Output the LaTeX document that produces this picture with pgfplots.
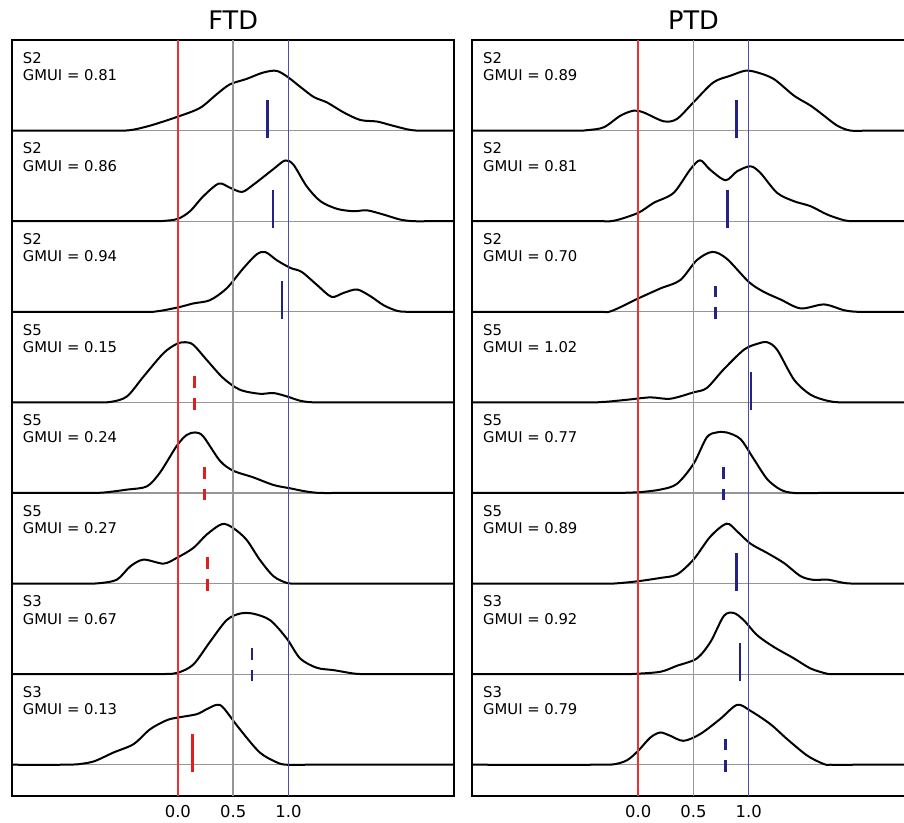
\documentclass[border=0pt]{standalone}
\usepackage{fontspec}
\setmainfont{DejaVu Sans}
\usepackage{pgfplots}
\pgfplotsset{compat=1.18}

\definecolor{zeroline}{RGB}{235,50,50}
\definecolor{oneline}{RGB}{75,75,170}
\definecolor{gridgray}{RGB}{150,150,150}
\definecolor{mkred}{RGB}{225,30,30}
\definecolor{mknavy}{RGB}{35,35,130}

\tikzset{lab/.style={anchor=base west, inner sep=0pt, font=\fontsize{7.4}{9}\selectfont}}
\pgfplotsset{
  ridge/.style={
    scale only axis, width=221.15pt, height=378pt, anchor=south west,
    xmin=-1.5, xmax=2.5, ymin=-0.345, ymax=8,
    xtick={0,0.5,1}, ytick={0,...,7}, yticklabels={},
    major tick length=0pt,
    ymajorgrids, grid style={color=gridgray, line width=0.6pt},
    axis line style={line width=1pt},
    /pgf/number format/assume math mode=true,
    xticklabel style={font=\fontsize{8.2}{10}\selectfont, anchor=north, inner sep=0pt, yshift=-4.6pt,
      /pgf/number format/.cd, fixed, fixed zerofill, precision=1},
    title style={at={(0.5,1)}, anchor=base, yshift=-1pt, font=\fontsize{12.8}{15}\selectfont},
  },
  curve/.style={black, line width=1pt, smooth},
  mk/.style={line width=1.3pt},
  mkd/.style={line width=1.3pt, dash pattern=on 5.85pt off 5pt},
  vline/.style={line width=0.7pt},
}

\begin{document}
\begin{tikzpicture}
\path[use as bounding box] (0,0) rectangle (452pt,411.5pt);
\clip (0,0) rectangle (452pt,411.5pt);

% ---------------- FTD ----------------
\begin{axis}[ridge, at={(6pt,13.5pt)}, title={FTD}]
\addplot[curve] table[y expr=\thisrow{y}+7] {
x y
-1.5 0
-0.6 0
-0.43 0.005
-0.25 0.055
0 0.154
0.20 0.25
0.35 0.40
0.47 0.51
0.62 0.57
0.77 0.64
0.89 0.66
0.99 0.595
1.11 0.48
1.23 0.37
1.35 0.31
1.50 0.20
1.65 0.117
1.80 0.10
1.92 0.062
2.07 0.015
2.16 0
2.3 0
2.5 0
};
\addplot[curve] table[y expr=\thisrow{y}+6] {
x y
-1.5 0
-0.3 0
-0.13 0.003
0 0.026
0.11 0.11
0.23 0.275
0.37 0.415
0.47 0.37
0.58 0.323
0.68 0.40
0.865 0.576
0.97 0.67
1.045 0.624
1.165 0.385
1.29 0.22
1.44 0.136
1.59 0.11
1.71 0.12
1.86 0.073
2.01 0.018
2.13 0
2.3 0
2.5 0
};
\addplot[curve] table[y expr=\thisrow{y}+5] {
x y
-1.5 0
-0.35 0
-0.19 0.005
0 0.048
0.14 0.092
0.29 0.128
0.44 0.257
0.59 0.477
0.71 0.631
0.79 0.66
0.895 0.569
1.016 0.485
1.12 0.44
1.26 0.294
1.39 0.165
1.50 0.209
1.62 0.246
1.74 0.173
1.86 0.073
1.98 0.011
2.07 0
2.3 0
2.5 0
};
\addplot[curve] table[y expr=\thisrow{y}+4] {
x y
-1.5 0
-0.8 0
-0.61 0.005
-0.46 0.066
-0.31 0.286
-0.13 0.543
-0.01 0.646
0.066 0.664
0.14 0.635
0.26 0.47
0.41 0.268
0.56 0.14
0.74 0.095
0.865 0.103
0.985 0.066
1.106 0.018
1.23 0
1.5 0
2.5 0
};
\addplot[curve] table[y expr=\thisrow{y}+3] {
x y
-1.5 0
-0.85 0
-0.67 0.005
-0.46 0.037
-0.28 0.073
-0.16 0.228
-0.01 0.52
0.08 0.64
0.157 0.668
0.23 0.624
0.38 0.356
0.50 0.246
0.68 0.173
0.865 0.088
1.016 0.051
1.166 0.015
1.29 0
1.5 0
2.5 0
};
\addplot[curve] table[y expr=\thisrow{y}+2] {
x y
-1.5 0
-0.85 0
-0.70 0.005
-0.55 0.044
-0.43 0.19
-0.31 0.264
-0.13 0.22
-0.01 0.283
0.14 0.393
0.26 0.54
0.40 0.657
0.50 0.613
0.62 0.485
0.74 0.264
0.865 0.081
0.985 0.007
1.076 0
1.3 0
2.5 0
};
\addplot[curve] table[y expr=\thisrow{y}+1] {
x y
-1.5 0
-0.25 0
-0.10 0.003
0 0.015
0.14 0.106
0.29 0.356
0.44 0.595
0.56 0.668
0.68 0.668
0.835 0.595
0.985 0.393
1.106 0.173
1.257 0.07
1.41 0.044
1.59 0.007
1.71 0
2.0 0
2.5 0
};
\addplot[curve] table {
x y
-1.5 0
-1.05 0
-0.91 0.005
-0.76 0.037
-0.58 0.136
-0.40 0.228
-0.25 0.393
-0.10 0.492
0 0.521
0.17 0.558
0.26 0.613
0.35 0.661
0.41 0.631
0.56 0.393
0.74 0.136
0.895 0.026
0.985 0
1.2 0
2.5 0
};

\addplot[vline, gridgray] coordinates {(0.5,-0.345) (0.5,8)};
\addplot[vline, zeroline] coordinates {(0,-0.345) (0,8)};
\addplot[vline, oneline] coordinates {(1,-0.345) (1,8)};

% GMUI markers
\addplot[mk, mknavy] coordinates {(0.81,6.92) (0.81,7.34)};
\addplot[mk, mknavy] coordinates {(0.86,5.92) (0.86,6.34)};
\addplot[mk, mknavy] coordinates {(0.94,4.92) (0.94,5.34)};
\addplot[mkd, mkred] coordinates {(0.15,3.92) (0.15,4.34)};
\addplot[mkd, mkred] coordinates {(0.24,2.92) (0.24,3.34)};
\addplot[mkd, mkred] coordinates {(0.27,1.92) (0.27,2.34)};
\addplot[mkd, mknavy] coordinates {(0.67,0.92) (0.67,1.34)};
\addplot[mk, mkred] coordinates {(0.13,-0.08) (0.13,0.34)};

\node[lab] at (axis cs:-1.405,7.743) {S2};
\node[lab] at (axis cs:-1.405,7.552) {GMUI = 0.81};
\node[lab] at (axis cs:-1.405,6.743) {S2};
\node[lab] at (axis cs:-1.405,6.552) {GMUI = 0.86};
\node[lab] at (axis cs:-1.405,5.743) {S2};
\node[lab] at (axis cs:-1.405,5.552) {GMUI = 0.94};
\node[lab] at (axis cs:-1.405,4.743) {S5};
\node[lab] at (axis cs:-1.405,4.552) {GMUI = 0.15};
\node[lab] at (axis cs:-1.405,3.743) {S5};
\node[lab] at (axis cs:-1.405,3.552) {GMUI = 0.24};
\node[lab] at (axis cs:-1.405,2.743) {S5};
\node[lab] at (axis cs:-1.405,2.552) {GMUI = 0.27};
\node[lab] at (axis cs:-1.405,1.743) {S3};
\node[lab] at (axis cs:-1.405,1.552) {GMUI = 0.67};
\node[lab] at (axis cs:-1.405,0.743) {S3};
\node[lab] at (axis cs:-1.405,0.552) {GMUI = 0.13};
\end{axis}

% ---------------- PTD ----------------
\begin{axis}[ridge, at={(236.15pt,13.5pt)}, title={PTD}]
\addplot[curve] table[y expr=\thisrow{y}+7] {
x y
-1.5 0
-0.6 0
-0.46 0.005
-0.31 0.037
-0.16 0.165
-0.04 0.22
0.05 0.2
0.23 0.103
0.35 0.128
0.50 0.312
0.68 0.532
0.835 0.606
0.97 0.661
1.076 0.642
1.227 0.569
1.41 0.385
1.56 0.275
1.68 0.165
1.80 0.055
1.92 0
2.1 0
2.5 0
};
\addplot[curve] table[y expr=\thisrow{y}+6] {
x y
-1.5 0
-0.4 0
-0.22 0.005
0 0.092
0.14 0.202
0.32 0.312
0.47 0.569
0.56 0.672
0.65 0.569
0.79 0.452
0.895 0.551
1.016 0.606
1.106 0.532
1.257 0.312
1.41 0.22
1.56 0.165
1.71 0.073
1.86 0.011
1.95 0
2.2 0
2.5 0
};
\addplot[curve] table[y expr=\thisrow{y}+5] {
x y
-1.5 0
-0.4 0
-0.25 0.005
0 0.147
0.20 0.257
0.38 0.349
0.53 0.569
0.67 0.661
0.80 0.587
1.00 0.33
1.136 0.22
1.287 0.136
1.47 0.037
1.68 0.081
1.86 0.018
1.98 0
2.2 0
2.5 0
};
\addplot[curve] table[y expr=\thisrow{y}+4] {
x y
-1.5 0
-0.5 0
-0.31 0.005
-0.10 0.029
0.11 0.055
0.29 0.04
0.50 0.11
0.62 0.158
0.77 0.36
0.955 0.58
1.076 0.646
1.166 0.664
1.257 0.58
1.41 0.25
1.56 0.084
1.71 0.018
1.83 0
2.1 0
2.5 0
};
\addplot[curve] table[y expr=\thisrow{y}+3] {
x y
-1.5 0
-0.3 0
-0.10 0.003
0 0.007
0.20 0.037
0.35 0.1
0.50 0.32
0.62 0.613
0.71 0.668
0.80 0.668
0.925 0.595
1.046 0.374
1.166 0.154
1.287 0.037
1.41 0
1.7 0
2.5 0
};
\addplot[curve] table[y expr=\thisrow{y}+2] {
x y
-1.5 0
-0.35 0
-0.19 0.003
0 0.026
0.20 0.062
0.35 0.1
0.50 0.264
0.654 0.52
0.80 0.661
0.895 0.576
1.016 0.44
1.166 0.338
1.317 0.228
1.47 0.081
1.59 0.04
1.71 0.044
1.86 0.007
1.95 0
2.2 0
2.5 0
};
\addplot[curve] table[y expr=\thisrow{y}+1] {
x y
-1.5 0
-0.2 0
-0.04 0.003
0.20 0.026
0.35 0.092
0.53 0.173
0.654 0.356
0.775 0.643
0.865 0.675
0.955 0.595
1.076 0.43
1.227 0.30
1.41 0.173
1.56 0.062
1.71 0.004
1.77 0
2.0 0
2.5 0
};
\addplot[curve] table {
x y
-1.5 0
-0.4 0
-0.22 0.005
-0.10 0.05
0 0.154
0.11 0.30
0.20 0.356
0.29 0.32
0.41 0.264
0.56 0.338
0.74 0.503
0.895 0.661
1.016 0.595
1.196 0.448
1.347 0.283
1.53 0.1
1.68 0.007
1.74 0
2.0 0
2.5 0
};

\addplot[vline, gridgray] coordinates {(0.5,-0.345) (0.5,8)};
\addplot[vline, zeroline] coordinates {(0,-0.345) (0,8)};
\addplot[vline, oneline] coordinates {(1,-0.345) (1,8)};

% GMUI markers
\addplot[mk, mknavy] coordinates {(0.89,6.92) (0.89,7.34)};
\addplot[mk, mknavy] coordinates {(0.81,5.92) (0.81,6.34)};
\addplot[mkd, mknavy] coordinates {(0.70,4.92) (0.70,5.34)};
\addplot[mk, mknavy] coordinates {(1.02,3.92) (1.02,4.34)};
\addplot[mkd, mknavy] coordinates {(0.77,2.92) (0.77,3.34)};
\addplot[mk, mknavy] coordinates {(0.89,1.92) (0.89,2.34)};
\addplot[mk, mknavy] coordinates {(0.92,0.92) (0.92,1.34)};
\addplot[mkd, mknavy] coordinates {(0.79,-0.08) (0.79,0.34)};

\node[lab] at (axis cs:-1.405,7.743) {S2};
\node[lab] at (axis cs:-1.405,7.552) {GMUI = 0.89};
\node[lab] at (axis cs:-1.405,6.743) {S2};
\node[lab] at (axis cs:-1.405,6.552) {GMUI = 0.81};
\node[lab] at (axis cs:-1.405,5.743) {S2};
\node[lab] at (axis cs:-1.405,5.552) {GMUI = 0.70};
\node[lab] at (axis cs:-1.405,4.743) {S5};
\node[lab] at (axis cs:-1.405,4.552) {GMUI = 1.02};
\node[lab] at (axis cs:-1.405,3.743) {S5};
\node[lab] at (axis cs:-1.405,3.552) {GMUI = 0.77};
\node[lab] at (axis cs:-1.405,2.743) {S5};
\node[lab] at (axis cs:-1.405,2.552) {GMUI = 0.89};
\node[lab] at (axis cs:-1.405,1.743) {S3};
\node[lab] at (axis cs:-1.405,1.552) {GMUI = 0.92};
\node[lab] at (axis cs:-1.405,0.743) {S3};
\node[lab] at (axis cs:-1.405,0.552) {GMUI = 0.79};
\end{axis}
\end{tikzpicture}
\end{document}
